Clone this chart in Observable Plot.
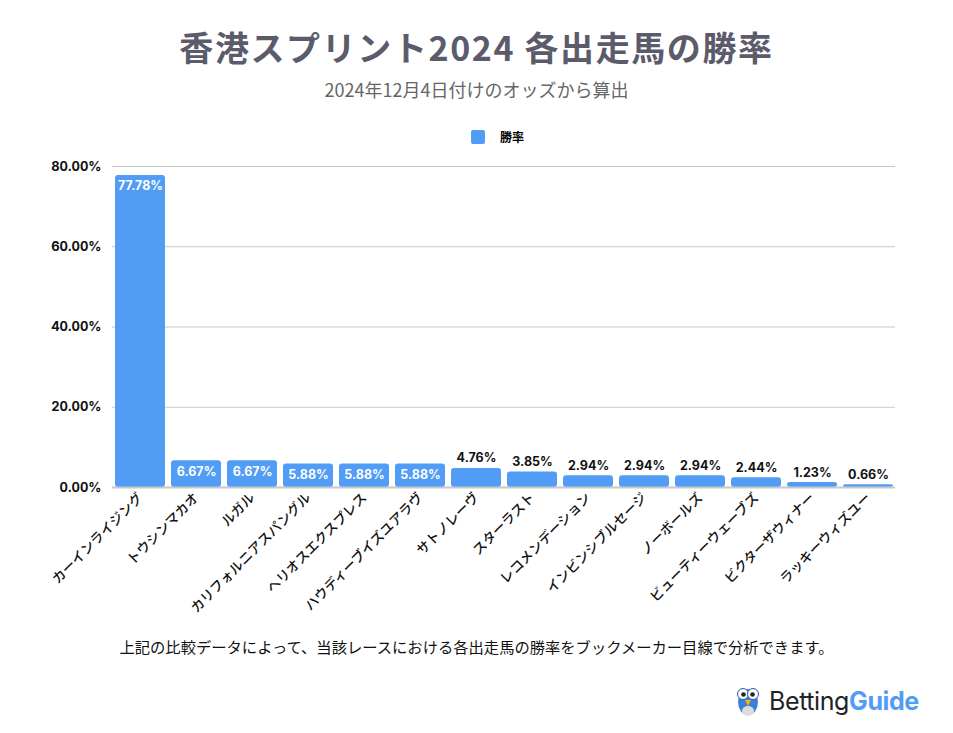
<!DOCTYPE html>
<html><head><meta charset="utf-8">
<script src="https://cdn.jsdelivr.net/npm/d3@7"></script>
<script src="https://cdn.jsdelivr.net/npm/@observablehq/plot@0.6"></script>
<style>
body{margin:0;background:#fff;width:953px;height:733px;position:relative;overflow:hidden;font-family:"Noto Sans CJK JP","Noto Sans",sans-serif;}
.abs{position:absolute;}
#title{left:0;width:953px;top:22px;text-align:center;font-size:34px;font-weight:700;color:#5b5b6b;letter-spacing:1.6px;}
#subtitle{left:0;width:953px;top:76px;text-align:center;font-size:18px;color:#666;}
#legend{top:128px;left:471px;font-size:12px;font-weight:700;color:#000;display:flex;align-items:center;}
#legend span.sw{display:inline-block;width:14px;height:14px;background:#519cf4;border-radius:2px;margin-right:15px;}
#chart{left:0;top:150px;}
#caption{left:0;width:953px;top:635px;text-align:center;font-size:15.3px;color:#111;}
#logo{left:735px;top:685px;display:flex;align-items:center;}
#logo .t{font-family:Inter,"Noto Sans",sans-serif;font-size:25px;color:#222;margin-left:8px;letter-spacing:-0.4px;}
#logo .g{color:#519cf4;font-weight:700;}
</style></head>
<body>
<div id="title" class="abs">香港スプリント2024 各出走馬の勝率</div>
<div id="subtitle" class="abs">2024年12月4日付けのオッズから算出</div>
<div id="legend" class="abs"><span class="sw"></span>勝率</div>
<div id="chart" class="abs"></div>
<div id="caption" class="abs">上記の比較データによって、当該レースにおける各出走馬の勝率をブックメーカー目線で分析できます。</div>
<div id="logo" class="abs">
<svg width="26" height="32" viewBox="0 0 26 32">
<ellipse cx="13" cy="17" rx="10" ry="13" fill="#3d7fd6"/>
<circle cx="8" cy="9" r="5.5" fill="#fff" stroke="#2b5ea8" stroke-width="1"/>
<circle cx="18" cy="9" r="5.5" fill="#fff" stroke="#2b5ea8" stroke-width="1"/>
<circle cx="8.5" cy="9.5" r="2.3" fill="#222"/>
<circle cx="17.5" cy="9.5" r="2.3" fill="#222"/>
<polygon points="10,15 16,15 13,21" fill="#f2b705"/>
<ellipse cx="13" cy="26" rx="6" ry="5" fill="#ddd"/>
</svg>
<span class="t">Betting<span class="g">Guide</span></span>
</div>
<script>
const horses = ["カーインライジング","トウシンマカオ","ルガル","カリフォルニアスパングル","ヘリオスエクスプレス","ハウディーブイズユアラヴ","サトノレーヴ","スターラスト","レコメンデーション","インビンシブルセージ","ノーボールズ","ビューティーウェーブズ","ビクターザウィナー","ラッキーウィズユー"];
const winRates = [77.78,6.67,6.67,5.88,5.88,5.88,4.76,3.85,2.94,2.94,2.94,2.44,1.23,0.66];
const yTicks = [0,20,40,60,80];
const data = horses.map((h,i)=>({horse:h, rate:winRates[i]}));
const fmt = v => v.toFixed(2) + "%";
const inside = data.filter(d=>d.rate>=5);
const outside = data.filter(d=>d.rate<5);
const chart = Plot.plot({
  width: 953, height: 470,
  marginLeft: 112, marginRight: 58, marginTop: 16, marginBottom: 133,
  style: {fontFamily: "'Noto Sans CJK JP', sans-serif", background: "transparent", overflow: "visible"},
  x: {domain: horses, paddingInner: 0.11, paddingOuter: 0, label: null, tickRotate: -45, tickSize: 0, tickPadding: 8},
  y: {domain: [0,80], ticks: yTicks, label: null, tickFormat: fmt, tickSize: 0, tickPadding: 11},
  marks: [
    Plot.gridY(yTicks.filter(t=>t>0), {stroke: "#c8c8c8", strokeOpacity: 1, strokeWidth: 1.2}),
    Plot.barY(data, {x: "horse", y: "rate", fill: "#519cf4", rx: 3}),
    Plot.ruleY([0], {stroke: "#c8c8c8", strokeWidth: 2}),
    Plot.text(inside, {x: "horse", y: "rate", text: d=>fmt(d.rate), dy: 11, fill: "#fff", fontWeight: 700, fontSize: 12.5, fontFamily: "Inter, sans-serif"}),
    Plot.text(outside, {x: "horse", y: "rate", text: d=>fmt(d.rate), dy: -10, fill: "#111", fontWeight: 700, fontSize: 12.5, fontFamily: "Inter, sans-serif"})
  ]
});
const ya = chart.querySelector("[aria-label='y-axis tick label']");
if (ya) { ya.setAttribute("font-size","13"); ya.setAttribute("font-weight","700"); ya.setAttribute("fill","#111"); ya.style.fontFamily="Inter, sans-serif"; }
const xa = chart.querySelector("[aria-label='x-axis tick label']");
if (xa) { xa.setAttribute("font-size","13.5"); xa.setAttribute("font-weight","500"); xa.setAttribute("fill","#111"); }
document.getElementById("chart").appendChild(chart);
</script>
</body></html>
